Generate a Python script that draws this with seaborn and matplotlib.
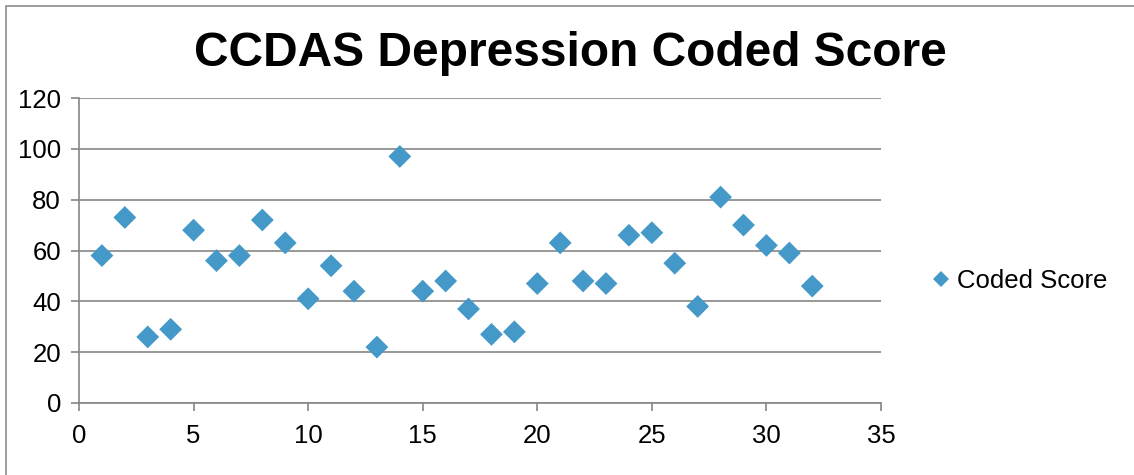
import matplotlib
matplotlib.use("Agg")
import matplotlib.pyplot as plt
import seaborn as sns
import pandas as pd
from matplotlib.patches import Rectangle

# Data
participant = list(range(1, 33))
coded_score = [58, 73, 26, 29, 68, 56, 58, 72, 63, 41, 54, 44, 22, 97, 44, 48,
               37, 27, 28, 47, 63, 48, 47, 66, 67, 55, 38, 81, 70, 62, 59, 46]
series_name = "Coded Score"
title = "CCDAS Depression Coded Score"
x_ticks = [0, 5, 10, 15, 20, 25, 30, 35]
y_ticks = [0, 20, 40, 60, 80, 100, 120]

df = pd.DataFrame({"x": participant, "y": coded_score, "series": series_name})

sns.set_theme(style="white")
plt.rcParams['font.family'] = ['Liberation Sans', 'DejaVu Sans']

W, H = 1134, 475
fig = plt.figure(figsize=(W / 100, H / 100), dpi=100)
ax = fig.add_axes([79 / W, 1 - 403 / H, (881 - 79) / W, (403 - 98) / H])

grid_color = "#868686"
blue = "#4599C8"

sns.scatterplot(data=df, x="x", y="y", hue="series", palette=[blue], marker="D",
                s=135, linewidth=0, ax=ax, zorder=3, legend=True)

ax.set_xlim(0, 35)
ax.set_ylim(0, 120)
ax.set_xticks(x_ticks)
ax.set_yticks(y_ticks)
ax.set_xlabel("")
ax.set_ylabel("")
ax.yaxis.grid(True, color=grid_color, linewidth=1.2)
ax.set_axisbelow(True)
for side in ["top", "right"]:
    ax.spines[side].set_visible(False)
for side in ["left", "bottom"]:
    ax.spines[side].set_color(grid_color)
    ax.spines[side].set_linewidth(1.2)
ax.tick_params(axis="both", which="major", direction="out", length=6, width=1.2,
               color=grid_color, labelsize=18.5, labelcolor="black",
               left=True, bottom=True)
ax.tick_params(axis="y", pad=7)
ax.tick_params(axis="x", pad=9)

ax.set_title("")
fig.text(570 / W, 1 - 54 / H, title, ha="center", va="center",
         fontsize=34.5, fontweight="bold", color="black")

leg = ax.legend(loc="center left", bbox_to_anchor=(926 / W, 1 - 281 / H),
                bbox_transform=fig.transFigure, frameon=False, fontsize=18.5,
                handletextpad=0.0, handlelength=1.2, borderaxespad=0, borderpad=0,
                markerscale=0.7)
for t in leg.get_texts():
    t.set_color("black")

# Outer chart border (left and top edges visible)
fig.patches.append(Rectangle((6 / W, -0.2), 1.2, 1.2 - 6 / H + 0.0,
                             transform=fig.transFigure, fill=False,
                             edgecolor="#8C8C8C", linewidth=1.2, zorder=0))

fig.savefig("out.png", dpi=100)
